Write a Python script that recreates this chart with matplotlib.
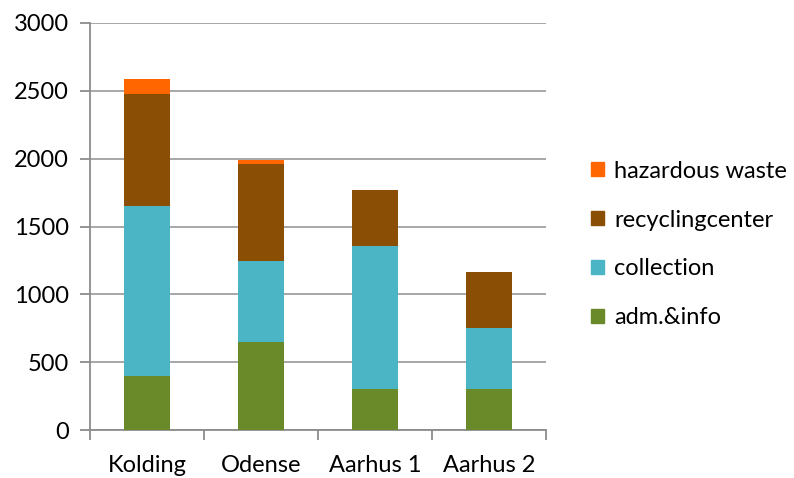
import numpy as np
import matplotlib.pyplot as plt
from matplotlib.patches import Patch

plt.rcParams['font.family'] = ['Lato', 'DejaVu Sans']

sites = ["Kolding", "Odense", "Aarhus 1", "Aarhus 2"]
adm_info = [395, 650, 300, 300]
collection = [1255, 595, 1055, 450]
recycling = [830, 715, 415, 412]
hazardous = [105, 32, 0, 0]

series = [("adm.&info", adm_info, "#6A8A2A"),
          ("collection", collection, "#4BB5C6"),
          ("recyclingcenter", recycling, "#8B4E05"),
          ("hazardous waste", hazardous, "#FF6600")]

fig = plt.figure(figsize=(7.94, 4.78), dpi=100)
ax = fig.add_axes([0.1134, 0.1004, 0.5743, 0.8515])

x = np.arange(len(sites))
bottom = np.zeros(len(sites))
for name, vals, col in series:
    ax.bar(x, vals, width=0.41, bottom=bottom, color=col, label=name, zorder=3)
    bottom += np.array(vals)

ax.set_xlim(-0.5, len(sites) - 0.5)
ax.set_ylim(0, 3000)
ax.set_yticks(range(0, 3001, 500))
ax.yaxis.grid(True, color="#A0A0A0", linewidth=1.3, zorder=0)

ax.set_xticks(x)
ax.set_xticklabels(sites, fontsize=17)
ax.set_xticks(np.arange(-0.5, len(sites), 1), minor=True)
ax.tick_params(axis='x', which='major', length=0, pad=18)
ax.tick_params(axis='x', which='minor', length=7, color="#8C8C8C", width=1.3)
ax.tick_params(axis='y', length=7, color="#8C8C8C", width=1.3, labelsize=17, pad=8)

for s in ["top", "right"]:
    ax.spines[s].set_visible(False)
for s in ["left", "bottom"]:
    ax.spines[s].set_color("#8C8C8C")
    ax.spines[s].set_linewidth(1.3)

handles = [Patch(color=c) for _, _, c in series][::-1]
labels = [n for n, _, _ in series][::-1]
fig.legend(handles, labels, loc="center left", bbox_to_anchor=(0.717, 0.4885),
           frameon=False, fontsize=17, handlelength=0.55, handleheight=0.55,
           handletextpad=0.45, labelspacing=1.18)

fig.savefig("out.png", dpi=100)
